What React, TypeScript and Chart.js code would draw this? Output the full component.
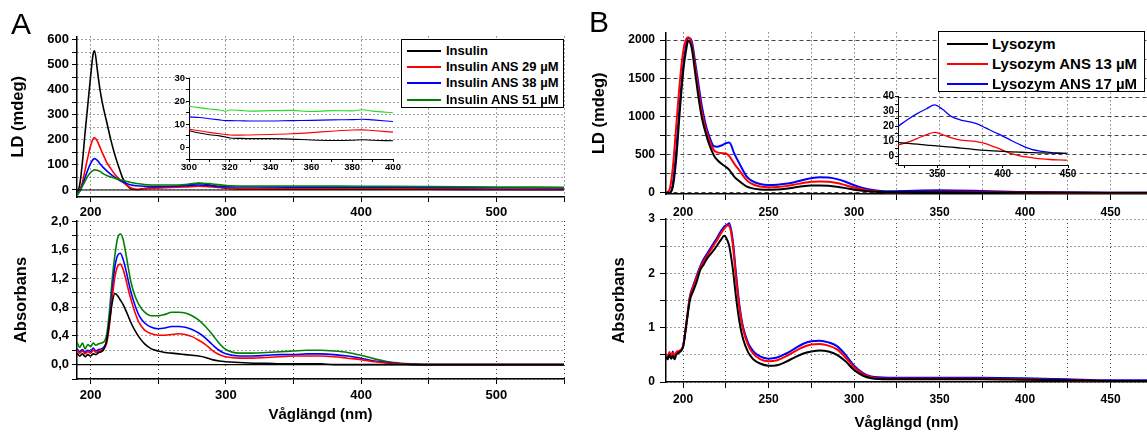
import React, { useEffect, useRef } from 'react';
import { Chart, registerables } from 'chart.js';

Chart.register(...registerables);

const FONT = "'Liberation Sans', Arial, Helvetica, sans-serif";

// ---------------- Panel A : Insulin ----------------
const A_NAMES = ['Insulin', 'Insulin ANS 29 µM', 'Insulin ANS 38 µM', 'Insulin ANS 51 µM'];
const A_COLORS = ['#000000', '#ff0000', '#0000ff', '#008000'];
const A_INSET_COLORS = ['#000000', '#ff0000', '#0000ff', '#22dd22'];

// LD (mdeg)
const A_LD_WL = [190, 192, 194, 196, 198, 200, 202, 203, 205, 207, 209, 212, 215, 218, 221, 224, 227, 230, 234, 240, 250, 260, 270, 280, 290, 300, 320, 350, 400, 450, 500, 550];
const A_LD_INSULIN = [-20, 20, 110, 230, 340, 450, 545, 555, 480, 400, 340, 270, 200, 140, 90, 45, 18, 5, 2, 6, 10, 13, 18, 26, 18, 7, 4, 3.5, 3, 3, 2, 2];
const A_LD_ANS29 = [-20, 0, 30, 80, 130, 175, 205, 208, 195, 170, 145, 110, 85, 62, 45, 30, 18, 8, 2, 6, 8, 10, 12, 15, 12, 8, 5.5, 6, 7, 5, 3, 2];
const A_LD_ANS38 = [-20, -5, 20, 50, 80, 105, 122, 125, 118, 105, 92, 76, 62, 50, 40, 32, 25, 20, 17, 15, 14, 15, 17, 20, 16, 13, 12, 11.5, 11.5, 10, 9, 8];
const A_LD_ANS51 = [-20, -5, 15, 35, 55, 70, 78, 80, 79, 74, 66, 58, 52, 47, 42, 38, 34, 30, 26, 22, 20, 20, 22, 28, 24, 18, 16, 16, 15, 14, 12, 11];

// LD inset (300-400 nm)
const A_IN_WL = [300, 305, 310, 315, 318, 320, 325, 330, 340, 350, 360, 370, 380, 385, 390, 400];
const A_IN_INSULIN = [7.2, 6.2, 5.5, 5, 4.5, 4.1, 3.9, 3.8, 3.8, 3.6, 3.2, 3, 3.1, 3.3, 3.1, 2.9];
const A_IN_ANS29 = [7.9, 7.2, 6.5, 5.9, 5.6, 5.4, 5.3, 5.4, 5.6, 5.9, 6.4, 7, 7.5, 7.6, 7.3, 6.6];
const A_IN_ANS38 = [13.2, 12.9, 12.4, 11.9, 11.6, 11.6, 11.5, 11.4, 11.4, 11.6, 11.7, 11.9, 12, 12.2, 11.9, 11.2];
const A_IN_ANS51 = [17.8, 17.2, 16.6, 16.2, 15.6, 16.2, 16, 15.7, 15.9, 16, 15.5, 15.9, 15.8, 16.3, 15.7, 15];

// Absorbans
const A_ABS_WL = [190, 192, 194, 196, 198, 200, 202, 204, 206, 208, 210, 212, 214, 216, 218, 220, 222, 224, 226, 228, 230, 233, 236, 240, 245, 250, 255, 260, 265, 270, 275, 280, 285, 290, 295, 300, 310, 320, 330, 340, 350, 360, 370, 380, 390, 400, 410, 420, 430, 440, 450, 500, 550];
const A_ABS_INSULIN = [0.16, 0.12, 0.15, 0.11, 0.14, 0.12, 0.15, 0.14, 0.17, 0.18, 0.22, 0.35, 0.6, 0.86, 0.99, 0.96, 0.9, 0.84, 0.76, 0.67, 0.58, 0.47, 0.38, 0.29, 0.22, 0.19, 0.17, 0.16, 0.15, 0.14, 0.13, 0.12, 0.1, 0.07, 0.05, 0.04, 0.03, 0.02, 0.02, 0.01, 0.01, 0.01, 0.01, 0, 0, 0, 0, 0, 0, 0, 0, 0, 0];
const A_ABS_ANS29 = [0.2, 0.16, 0.19, 0.15, 0.18, 0.16, 0.2, 0.17, 0.19, 0.2, 0.23, 0.3, 0.55, 0.92, 1.22, 1.37, 1.4, 1.33, 1.2, 1.04, 0.9, 0.72, 0.58, 0.48, 0.43, 0.41, 0.41, 0.42, 0.43, 0.42, 0.39, 0.34, 0.28, 0.2, 0.14, 0.11, 0.09, 0.09, 0.1, 0.11, 0.12, 0.12, 0.12, 0.11, 0.09, 0.07, 0.04, 0.02, 0.01, 0, 0, 0, 0];
const A_ABS_ANS38 = [0.22, 0.18, 0.21, 0.17, 0.2, 0.18, 0.23, 0.19, 0.21, 0.22, 0.25, 0.33, 0.62, 1.02, 1.36, 1.52, 1.55, 1.47, 1.33, 1.16, 1.0, 0.82, 0.68, 0.58, 0.52, 0.5, 0.51, 0.53, 0.53, 0.52, 0.49, 0.44, 0.37, 0.28, 0.2, 0.15, 0.12, 0.12, 0.13, 0.14, 0.14, 0.15, 0.15, 0.14, 0.12, 0.09, 0.05, 0.03, 0.01, 0, 0, 0, 0];
const A_ABS_ANS51 = [0.31, 0.24, 0.3, 0.22, 0.28, 0.25, 0.3, 0.27, 0.29, 0.3, 0.32, 0.42, 0.75, 1.18, 1.52, 1.76, 1.82, 1.75, 1.56, 1.34, 1.14, 0.95, 0.83, 0.73, 0.68, 0.68, 0.7, 0.73, 0.73, 0.72, 0.68, 0.62, 0.53, 0.42, 0.3, 0.21, 0.16, 0.16, 0.17, 0.18, 0.19, 0.2, 0.2, 0.19, 0.17, 0.13, 0.08, 0.04, 0.02, 0.01, 0, 0, 0];

const A_ZERO_WL = [190, 550];
const A_ZERO = [0, 0];

// ticks
const A_X_TICKS = [200, 250, 300, 350, 400, 450, 500, 550];
const A_X_LABELS = [200, 300, 400, 500];
const A_LD_Y_TICKS = [0, 50, 100, 150, 200, 250, 300, 350, 400, 450, 500, 550, 600];
const A_LD_Y_LABELS = [0, 100, 200, 300, 400, 500, 600];
const A_ABS_Y_TICKS = [-0.2, 0, 0.2, 0.4, 0.6, 0.8, 1.0, 1.2, 1.4, 1.6, 1.8, 2.0];
const A_ABS_Y_LABELS = [0, 0.4, 0.8, 1.2, 1.6, 2.0];
const A_IN_X_TICKS = [300, 310, 320, 330, 340, 350, 360, 370, 380, 390, 400];
const A_IN_X_LABELS = [300, 320, 340, 360, 380, 400];
const A_IN_Y_TICKS = [-5, 0, 5, 10, 15, 20, 25, 30];
const A_IN_Y_LABELS = [0, 10, 20, 30];

// ---------------- Panel B : Lysozym ----------------
const B_NAMES = ['Lysozym', 'Lysozym ANS 13 µM', 'Lysozym ANS 17 µM'];
const B_COLORS = ['#000000', '#ff0000', '#0000ff'];

const B_LD_WL = [190, 192, 194, 196, 198, 200, 202, 203, 205, 207, 209, 211, 213, 215, 218, 220, 223, 225, 227, 230, 233, 237, 240, 245, 250, 255, 260, 265, 270, 275, 280, 285, 290, 295, 300, 305, 310, 320, 350, 400, 450, 472];
const B_LD_LYS = [0, 0, 80, 450, 1050, 1580, 1900, 1990, 1900, 1580, 1250, 980, 800, 650, 490, 430, 370, 340, 300, 210, 150, 85, 62, 45, 40, 45, 55, 70, 85, 95, 97, 92, 80, 62, 42, 27, 17, 10, 7, 3, 2, 2];
const B_LD_ANS13 = [0, 40, 330, 880, 1430, 1840, 2020, 2035, 1950, 1660, 1340, 1060, 860, 710, 560, 530, 520, 515, 480, 380, 290, 170, 120, 82, 72, 76, 88, 108, 130, 146, 150, 145, 128, 100, 70, 45, 28, 8, 16, 6, -3, -3];
const B_LD_ANS17 = [0, -5, 120, 560, 1150, 1650, 1960, 2030, 1990, 1720, 1420, 1130, 910, 760, 610, 605, 625, 650, 660, 510, 380, 220, 160, 115, 102, 105, 118, 140, 168, 192, 205, 200, 180, 145, 100, 65, 42, 20, 33, 11, 2, 2];

const B_IN_WL = [320, 328, 335, 342, 348, 354, 361, 368, 375, 381, 387, 393, 400, 406, 414, 420, 424, 430, 436, 443, 449];
const B_IN_LYS = [9.2, 8.5, 8, 7.4, 7, 6.5, 6, 5.4, 4.8, 4.2, 3.8, 3.5, 3.2, 2.9, 2.6, 2.4, 2.3, 2.1, 2, 1.9, 1.8];
const B_IN_ANS13 = [7.4, 9.5, 12, 14.5, 16, 14.5, 12.2, 10.8, 10.2, 9.6, 8.4, 6.4, 4, 1.8, 0, -0.8, -1.3, -1.9, -2.3, -2.6, -2.8];
const B_IN_ANS17 = [20, 25, 28.8, 32, 34.5, 31.5, 26.6, 24.3, 23, 21.5, 19, 16.4, 13.5, 10.8, 7.4, 5.2, 4.1, 3.2, 2.5, 2, 1.8];

const B_ABS_WL = [190, 191, 192, 193, 194, 195, 196, 198, 200, 202, 204, 206, 208, 210, 212, 214, 216, 218, 220, 222, 224, 226, 227, 229, 231, 233, 235, 238, 241, 245, 250, 255, 260, 265, 270, 275, 280, 285, 290, 295, 300, 305, 310, 320, 350, 375, 400, 425, 450, 472];
const B_ABS_LYS = [0.47, 0.42, 0.5, 0.43, 0.48, 0.42, 0.5, 0.55, 0.65, 1.08, 1.51, 1.68, 1.85, 2.06, 2.16, 2.27, 2.35, 2.43, 2.52, 2.61, 2.69, 2.6, 2.5, 2.1, 1.55, 1.1, 0.8, 0.55, 0.42, 0.34, 0.3, 0.31, 0.37, 0.45, 0.52, 0.56, 0.58, 0.56, 0.5, 0.38, 0.22, 0.12, 0.07, 0.05, 0.05, 0.05, 0.04, 0.03, 0.02, 0.02];
const B_ABS_ANS13 = [0.5, 0.44, 0.55, 0.47, 0.54, 0.46, 0.55, 0.58, 0.66, 1.1, 1.56, 1.75, 1.93, 2.1, 2.22, 2.32, 2.42, 2.52, 2.62, 2.73, 2.82, 2.88, 2.87, 2.55, 1.9, 1.35, 0.98, 0.68, 0.52, 0.42, 0.38, 0.4, 0.47, 0.56, 0.64, 0.69, 0.7, 0.67, 0.6, 0.45, 0.27, 0.15, 0.09, 0.06, 0.06, 0.06, 0.05, 0.03, 0.02, 0.02];
const B_ABS_ANS17 = [0.52, 0.42, 0.53, 0.44, 0.56, 0.46, 0.53, 0.57, 0.66, 1.1, 1.58, 1.78, 1.96, 2.13, 2.26, 2.36, 2.46, 2.56, 2.66, 2.77, 2.86, 2.9, 2.92, 2.62, 1.98, 1.4, 1.02, 0.72, 0.57, 0.47, 0.43, 0.45, 0.52, 0.61, 0.7, 0.75, 0.76, 0.73, 0.66, 0.5, 0.3, 0.17, 0.1, 0.08, 0.08, 0.08, 0.07, 0.05, 0.03, 0.03];

const B_X_TICKS = [200, 225, 250, 275, 300, 325, 350, 375, 400, 425, 450];
const B_X_LABELS = [200, 250, 300, 350, 400, 450];
const B_LD_Y_TICKS = [0, 250, 500, 750, 1000, 1250, 1500, 1750, 2000];
const B_LD_Y_LABELS = [0, 500, 1000, 1500, 2000];
const B_ABS_Y_TICKS = [0, 0.5, 1, 1.5, 2, 2.5, 3];
const B_ABS_Y_LABELS = [0, 1, 2, 3];
const B_IN_X_TICKS = [325, 350, 375, 400, 425, 450];
const B_IN_X_LABELS = [350, 400, 450];
const B_IN_Y_TICKS = [-5, 0, 5, 10, 15, 20, 25, 30, 35, 40];
const B_IN_Y_LABELS = [0, 10, 20, 30, 40];

// ---------------- helpers ----------------
type Series = { color: string; wl: number[]; values: number[]; width?: number };
type PlotSpec = {
  left: number; top: number; width: number; height: number;
  axisW: number; axisH: number; padTop: number; padRight: number;
  xMin: number; xMax: number; xTicks: number[]; xLabels: number[];
  yMin: number; yMax: number; yTicks: number[]; yLabels: number[];
  yFmt?: (v: number) => string;
  series: Series[];
  gridX: number[] | null; gridY: number[] | null;
  tickSize: number; tickLen: number; xTickPad: number; yTickPad: number;
  yTitle?: string; yTitlePad?: number; xTitle?: string; xTitlePad?: number;
  lineWidth: number; borderWidth: number;
};

const GRID_COLOR = '#444444';
const DOT = [1, 3];
const DASH = [4, 3];

const near = (v: number, arr: number[]) => arr.some((m) => Math.abs(m - v) < 1e-6);
const commaFmt = (v: number) => v.toFixed(1).replace('.', ',');

function buildConfig(s: PlotSpec): any {
  const tickFont = { family: FONT, size: s.tickSize, weight: 'bold' };
  const xTitleFont = { family: FONT, size: 15, weight: 'bold', lineHeight: 1.2 };
  const yTitleFont = { family: FONT, size: 16.5, weight: 'bold', lineHeight: 1.2 };
  return {
    type: 'line',
    data: {
      datasets: s.series.map((ser) => ({
        data: ser.wl.map((x, i) => ({ x, y: ser.values[i] })),
        borderColor: ser.color,
        backgroundColor: ser.color,
        borderWidth: ser.width ?? s.lineWidth,
        pointRadius: 0,
        fill: false,
        cubicInterpolationMode: 'monotone',
      })),
    },
    options: {
      responsive: false,
      animation: false,
      devicePixelRatio: 1,
      events: [],
      layout: { autoPadding: false, padding: { top: s.padTop, right: s.padRight, left: 0, bottom: 0 } },
      plugins: { legend: { display: false }, tooltip: { enabled: false }, title: { display: false } },
      scales: {
        x: {
          type: 'linear',
          position: 'bottom',
          min: s.xMin,
          max: s.xMax,
          afterBuildTicks: (ax: any) => { ax.ticks = s.xTicks.map((value) => ({ value })); },
          afterFit: (ax: any) => { ax.height = s.axisH; },
          ticks: {
            autoSkip: false, maxRotation: 0, minRotation: 0, padding: s.xTickPad, color: '#000', font: tickFont,
            callback: (v: number) => (near(v, s.xLabels) ? String(v) : ''),
          },
          grid: {
            display: true, drawOnChartArea: !!s.gridX, color: GRID_COLOR, lineWidth: 1,
            drawTicks: true, tickLength: s.tickLen, tickColor: '#000', tickWidth: 1, tickBorderDash: [],
          },
          border: { display: true, color: '#000', width: s.borderWidth, dash: s.gridX || [] },
          title: s.xTitle
            ? { display: true, text: s.xTitle, color: '#000', font: xTitleFont, padding: { top: 0, bottom: s.xTitlePad ?? 0 } }
            : { display: false },
        },
        y: {
          type: 'linear',
          position: 'left',
          min: s.yMin,
          max: s.yMax,
          afterBuildTicks: (ax: any) => { ax.ticks = s.yTicks.map((value) => ({ value })); },
          afterFit: (ax: any) => { ax.width = s.axisW; },
          ticks: {
            autoSkip: false, padding: s.yTickPad, color: '#000', font: tickFont,
            callback: (v: number) => (near(v, s.yLabels) ? (s.yFmt ? s.yFmt(v) : String(v)) : ''),
          },
          grid: {
            display: true, drawOnChartArea: !!s.gridY, color: GRID_COLOR, lineWidth: 1,
            drawTicks: true, tickLength: s.tickLen, tickColor: '#000', tickWidth: 1, tickBorderDash: [],
          },
          border: { display: true, color: '#000', width: s.borderWidth, dash: s.gridY || [] },
          title: s.yTitle
            ? { display: true, text: s.yTitle, color: '#000', font: yTitleFont, padding: { top: s.yTitlePad ?? 0, bottom: 0 } }
            : { display: false },
        },
      },
    },
  };
}

function PlotCanvas({ spec }: { spec: PlotSpec }) {
  const ref = useRef<HTMLCanvasElement>(null);
  useEffect(() => {
    const chart = new Chart(ref.current as HTMLCanvasElement, buildConfig(spec));
    return () => chart.destroy();
  }, [spec]);
  return (
    <canvas
      ref={ref}
      width={spec.width}
      height={spec.height}
      style={{ position: 'absolute', left: spec.left, top: spec.top, width: spec.width, height: spec.height }}
    />
  );
}

function Legend(props: {
  left: number; top: number; width: number; height: number; names: string[]; colors: string[];
  fontSize: number; rowCenters: number[]; lineLeft: number; lineLen: number; textLeft: number;
}) {
  const { left, top, width, height, names, colors, fontSize, rowCenters, lineLeft, lineLen, textLeft } = props;
  return (
    <div style={{ position: 'absolute', left, top, width, height, border: '1.5px solid #000', background: '#fff', boxSizing: 'border-box' }}>
      {names.map((n, i) => (
        <div key={n} style={{ position: 'absolute', left: 0, top: rowCenters[i] - 10, height: 20, width: '100%' }}>
          <div style={{ position: 'absolute', left: lineLeft, top: 9, width: lineLen, height: 2, background: colors[i] }} />
          <div style={{ position: 'absolute', left: textLeft, top: 0, height: 20, lineHeight: '20px', fontFamily: FONT, fontWeight: 'bold', fontSize, whiteSpace: 'nowrap', color: '#000' }}>{n}</div>
        </div>
      ))}
    </div>
  );
}

const mk = (wl: number[], vals: number[][], colors: string[], width?: number): Series[] =>
  vals.map((v, i) => ({ wl, values: v, color: colors[i], width }));

const A_LD_PLOT: PlotSpec = {
  left: 0, top: 0, width: 575, height: 225, axisW: 77, axisH: 28, padTop: 36.5, padRight: 11,
  xMin: 190, xMax: 550, xTicks: A_X_TICKS, xLabels: A_X_LABELS,
  yMin: -28, yMax: 612, yTicks: A_LD_Y_TICKS, yLabels: A_LD_Y_LABELS,
  series: [
    { wl: A_ZERO_WL, values: A_ZERO, color: '#000', width: 1.2 },
    ...mk(A_LD_WL, [A_LD_INSULIN, A_LD_ANS29, A_LD_ANS38, A_LD_ANS51].reverse(), [...A_COLORS].reverse()),
  ],
  gridX: DOT, gridY: DOT, tickSize: 13, tickLen: 5, xTickPad: 3, yTickPad: 3,
  yTitle: 'LD (mdeg)', yTitlePad: 9, lineWidth: 1.6, borderWidth: 1.5,
};

const A_ABS_PLOT: PlotSpec = {
  left: 0, top: 200, width: 575, height: 232, axisW: 77, axisH: 53, padTop: 21, padRight: 11,
  xMin: 190, xMax: 550, xTicks: A_X_TICKS, xLabels: A_X_LABELS,
  yMin: -0.2, yMax: 2.0, yTicks: A_ABS_Y_TICKS, yLabels: A_ABS_Y_LABELS, yFmt: commaFmt,
  series: [
    { wl: A_ZERO_WL, values: A_ZERO, color: '#000', width: 1.2 },
    ...mk(A_ABS_WL, [A_ABS_INSULIN, A_ABS_ANS29, A_ABS_ANS38, A_ABS_ANS51], A_COLORS),
  ],
  gridX: DOT, gridY: DOT, tickSize: 13, tickLen: 5, xTickPad: 4, yTickPad: 3,
  yTitle: 'Absorbans', yTitlePad: 12, xTitle: 'Våglängd (nm)', xTitlePad: 8, lineWidth: 1.6, borderWidth: 1.5,
};

const A_INSET_PLOT: PlotSpec = {
  left: 150, top: 60, width: 260, height: 125, axisW: 39, axisH: 26, padTop: 18, padRight: 17,
  xMin: 300, xMax: 400, xTicks: A_IN_X_TICKS, xLabels: A_IN_X_LABELS,
  yMin: -5, yMax: 30, yTicks: A_IN_Y_TICKS, yLabels: A_IN_Y_LABELS,
  series: mk(A_IN_WL, [A_IN_INSULIN, A_IN_ANS29, A_IN_ANS38, A_IN_ANS51], A_INSET_COLORS),
  gridX: null, gridY: null, tickSize: 9.5, tickLen: 3, xTickPad: 0, yTickPad: 1,
  lineWidth: 1.1, borderWidth: 1,
};

const B_LD_PLOT: PlotSpec = {
  left: 580, top: 0, width: 567, height: 225, axisW: 86, axisH: 31, padTop: 32.4, padRight: 0,
  xMin: 190, xMax: 471.3, xTicks: B_X_TICKS, xLabels: B_X_LABELS,
  yMin: -15, yMax: 2100, yTicks: B_LD_Y_TICKS, yLabels: B_LD_Y_LABELS,
  series: mk(B_LD_WL, [B_LD_LYS, B_LD_ANS13, B_LD_ANS17], B_COLORS),
  gridX: DOT, gridY: DASH, tickSize: 12, tickLen: 6, xTickPad: 5, yTickPad: 5,
  yTitle: 'LD (mdeg)', yTitlePad: 10, lineWidth: 2, borderWidth: 1.5,
};

const B_ABS_PLOT: PlotSpec = {
  left: 580, top: 200, width: 567, height: 232, axisW: 86, axisH: 50, padTop: 19, padRight: 0,
  xMin: 190, xMax: 471.3, xTicks: B_X_TICKS, xLabels: B_X_LABELS,
  yMin: 0, yMax: 3, yTicks: B_ABS_Y_TICKS, yLabels: B_ABS_Y_LABELS,
  series: mk(B_ABS_WL, [B_ABS_LYS, B_ABS_ANS13, B_ABS_ANS17], B_COLORS),
  gridX: DOT, gridY: DOT, tickSize: 12, tickLen: 6, xTickPad: 4, yTickPad: 5,
  yTitle: 'Absorbans', yTitlePad: 30, xTitle: 'Våglängd (nm)', xTitlePad: 0, lineWidth: 2, borderWidth: 1.5,
};

const B_INSET_PLOT: PlotSpec = {
  left: 860, top: 80, width: 230, height: 110, axisW: 38, axisH: 25, padTop: 16.7, padRight: 22,
  xMin: 320, xMax: 450, xTicks: B_IN_X_TICKS, xLabels: B_IN_X_LABELS,
  yMin: -6, yMax: 40, yTicks: B_IN_Y_TICKS, yLabels: B_IN_Y_LABELS,
  series: mk(B_IN_WL, [B_IN_LYS, B_IN_ANS13, B_IN_ANS17], B_COLORS),
  gridX: null, gridY: null, tickSize: 10, tickLen: 3, xTickPad: 0, yTickPad: 1,
  lineWidth: 1.3, borderWidth: 1,
};

const PLOTS = [A_LD_PLOT, A_ABS_PLOT, B_LD_PLOT, B_ABS_PLOT, A_INSET_PLOT, B_INSET_PLOT];

export default function App() {
  return (
    <div style={{ position: 'fixed', left: 0, top: 0, width: 1147, height: 432, background: '#fff', overflow: 'hidden' }}>
      {PLOTS.map((p, i) => (
        <PlotCanvas key={i} spec={p} />
      ))}
      <Legend left={401} top={39} width={163} height={69} names={A_NAMES} colors={A_COLORS} fontSize={13}
        rowCenters={[10.7, 27.3, 43.3, 60]} lineLeft={5} lineLen={34} textLeft={44} />
      <Legend left={938} top={31} width={207} height={61} names={B_NAMES} colors={B_COLORS} fontSize={15}
        rowCenters={[12.2, 32, 51.5]} lineLeft={8} lineLen={41} textLeft={53} />
      <div style={{ position: 'absolute', left: 11, top: 9, fontFamily: FONT, fontSize: 30, lineHeight: '30px', color: '#000' }}>A</div>
      <div style={{ position: 'absolute', left: 589, top: 7, fontFamily: FONT, fontSize: 30, lineHeight: '30px', color: '#000' }}>B</div>
    </div>
  );
}
